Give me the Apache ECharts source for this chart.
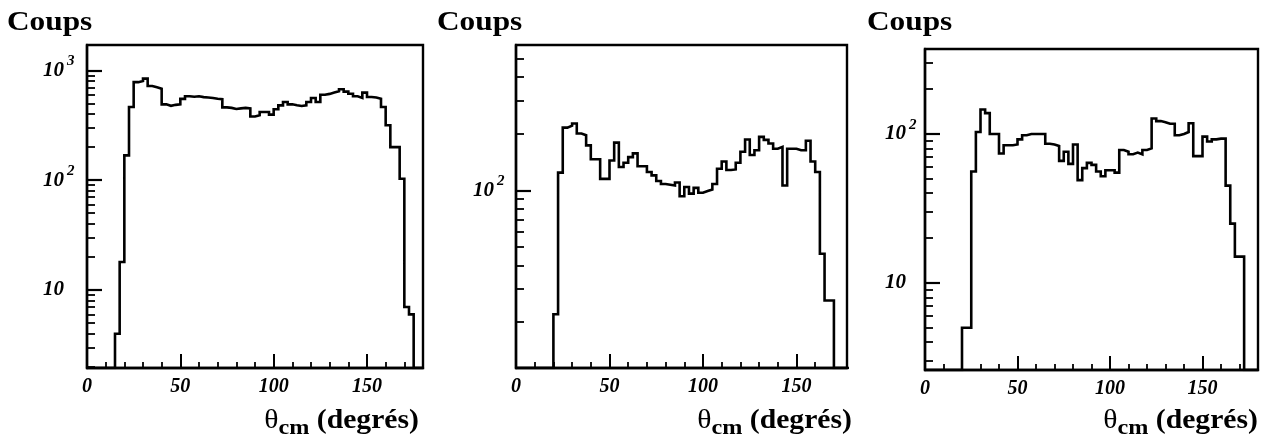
<!DOCTYPE html>
<html>
<head>
<meta charset="utf-8">
<script src="https://cdn.jsdelivr.net/npm/echarts@6/dist/echarts.min.js"></script>
<style>
  html, body { margin: 0; padding: 0; background: #fff; }
  #chart { width: 1274px; height: 446px; }
</style>
</head>
<body>
<div id="chart"></div>
<script>
// Angular distributions, counts per 2.5 degree bin from 0 to 180 degrees
const binWidth = 2.5;

const countsA = [
  0, 0, 0, 0, 0, 0, 4, 18, 168, 464,
  780, 800, 840, 720, 700, 680, 490, 475, 485, 490,
  550, 580, 575, 580, 570, 565, 560, 550, 545, 460,
  455, 445, 450, 455, 450, 380, 390, 417, 417, 395,
  442, 480, 515, 490, 480, 473, 480, 515, 560, 515,
  600, 610, 627, 644, 672, 640, 612, 580, 560, 627,
  572, 565, 552, 463, 316, 200, 200, 103, 7, 6,
  0, 0
];

const countsB = [
  0, 0, 0, 0, 0, 0, 0, 0, 22, 124,
  215, 220, 226, 200, 196, 173, 146, 146, 115, 115,
  144, 179, 133, 140, 150, 157, 134, 134, 125, 120,
  112, 108, 107, 106, 110, 93, 104, 96, 103, 97,
  99, 101, 108, 130, 142, 128, 129, 140, 160, 186,
  154, 163, 192, 185, 177, 166, 170, 106, 166, 166,
  163, 163, 183, 142, 125, 46, 26, 26, 0, 0,
  0, 0
];

const countsC = [
  0, 0, 0, 0, 0, 0, 0, 0, 5, 5,
  56, 103, 146, 138, 100, 100, 74, 84, 84, 85,
  92, 98, 100, 100, 100, 100, 86, 85, 83, 66,
  76, 63, 85, 49, 59, 64, 62, 56, 52, 57,
  57, 55, 78, 76, 73, 75, 73, 78, 80, 127,
  122, 120, 117, 117, 98, 100, 103, 118, 71, 71,
  96, 89, 92, 93, 93, 45, 25, 15, 15, 0,
  0, 0
];

// Axis ticks
const xTickLabels = [0, 50, 100, 150];
const decadeExponents = [1, 2, 3];
const minorTickValues = [
  2, 3, 4, 5, 6, 7, 8, 9,
  20, 30, 40, 50, 60, 70, 80, 90,
  200, 300, 400, 500, 600, 700, 800, 900
];

const yTitle = 'Coups';
const xTitleSymbol = 'θ';
const xTitleSub = 'cm';
const xTitleUnit = ' (degrés)';

const panels = [
  { left: 87,  top: 45, width: 336, height: 323, xMax: 180, yMin: 1.95, yMax: 1700, counts: countsA, labelMargin: 44, titleX: 7,   titleRight: 419 },
  { left: 516, top: 45, width: 331, height: 323, xMax: 177, yMin: 11.4, yMax: 590,  counts: countsB, labelMargin: 43, titleX: 437, titleRight: 852 },
  { left: 925, top: 49, width: 333, height: 321, xMax: 180, yMin: 2.6,  yMax: 372,  counts: countsC, labelMargin: 40, titleX: 867, titleRight: 1258 }
];

const ink = '#000';
const tickFont = { fontFamily: 'Liberation Serif', fontStyle: 'italic', fontWeight: 'bold', fontSize: 20, color: ink };

// Histogram outline: one point per bin left edge, empty bins sit on the floor of the axis
function stepPoints(counts, floor) {
  const pts = counts.map((c, i) => [i * binWidth, c > 0 ? c : floor]);
  pts.push([counts.length * binWidth, floor]);
  return pts;
}

const grid = [], xAxis = [], yAxis = [], series = [], graphic = [];

panels.forEach((p, k) => {
  grid.push({
    left: p.left, top: p.top, width: p.width, height: p.height,
    show: true, borderColor: ink, borderWidth: 2.4, backgroundColor: 'transparent'
  });

  // minor x ticks every 10 degrees (also carries the data)
  xAxis.push({
    gridIndex: k, type: 'value', position: 'bottom', min: 0, max: p.xMax, interval: 10,
    axisLine: { show: true, onZero: false, lineStyle: { color: ink, width: 2.4 } },
    axisTick: { show: true, inside: true, length: 6, lineStyle: { color: ink, width: 1.8 } },
    axisLabel: { show: false },
    splitLine: { show: false }
  });
  // major x ticks with labels
  xAxis.push({
    gridIndex: k, type: 'value', position: 'bottom', min: 0, max: p.xMax,
    axisLine: { show: false, onZero: false },
    axisTick: { show: true, inside: true, length: 14, customValues: xTickLabels, lineStyle: { color: ink, width: 2 } },
    axisLabel: Object.assign({ show: true, margin: 9, customValues: xTickLabels }, tickFont),
    splitLine: { show: false }
  });

  const lmin = Math.log10(p.yMin), lmax = Math.log10(p.yMax);
  // logarithmic counts axis carrying the histogram
  yAxis.push({
    gridIndex: k, type: 'log', logBase: 10, position: 'left', min: p.yMin, max: p.yMax,
    axisLine: { show: true, onZero: false, lineStyle: { color: ink, width: 2.4 } },
    axisTick: { show: false }, axisLabel: { show: false }, splitLine: { show: false }
  });
  // decade ticks and labels, placed on the log10 scale
  yAxis.push({
    gridIndex: k, type: 'value', position: 'left', min: lmin, max: lmax,
    axisLine: { show: false, onZero: false },
    axisTick: { show: true, inside: true, length: 15, customValues: decadeExponents, lineStyle: { color: ink, width: 2.2 } },
    axisLabel: {
      show: true, customValues: decadeExponents, margin: p.labelMargin, align: 'left',
      formatter: v => {
        const n = Math.round(v);
        return n === 1 ? '{b|10}' : '{b|10}{s|' + n + '}';
      },
      rich: {
        b: { fontFamily: 'Liberation Serif', fontStyle: 'italic', fontWeight: 'bold', fontSize: 21, color: ink, verticalAlign: 'bottom', lineHeight: 21 },
        s: { fontFamily: 'Liberation Serif', fontStyle: 'italic', fontWeight: 'bold', fontSize: 15, color: ink, verticalAlign: 'bottom', lineHeight: 15, padding: [0, 0, 12, 3] }
      }
    },
    splitLine: { show: false }
  });
  // intermediate ticks 2..9 of each decade
  yAxis.push({
    gridIndex: k, type: 'value', position: 'left', min: lmin, max: lmax,
    axisLine: { show: false, onZero: false },
    axisTick: { show: true, inside: true, length: 8, customValues: minorTickValues.map(Math.log10), lineStyle: { color: ink, width: 1.8 } },
    axisLabel: { show: false },
    splitLine: { show: false }
  });

  series.push({
    type: 'line', step: 'end', xAxisIndex: 2 * k, yAxisIndex: 3 * k,
    data: stepPoints(p.counts, p.yMin),
    showSymbol: false, symbol: 'none', clip: true, animation: false,
    lineStyle: { color: ink, width: 2.6, join: 'miter' }
  });

  graphic.push({
    type: 'text', x: p.titleX, y: 23, scaleX: 1.16, silent: true,
    style: {
      text: yTitle, fill: ink, font: 'bold 27px "Liberation Serif"',
      align: 'left', verticalAlign: 'middle', textAlign: 'left', textVerticalAlign: 'middle'
    }
  });
  graphic.push({
    type: 'text', x: p.titleRight, y: 426, scaleX: 1.1, silent: true,
    style: {
      text: '{t|' + xTitleSymbol + '}{s|' + xTitleSub + '}{m|' + xTitleUnit + '}',
      align: 'right', verticalAlign: 'middle', textAlign: 'right', textVerticalAlign: 'middle',
      rich: {
        t: { fontFamily: 'Liberation Serif', fontSize: 27, fill: ink, color: ink, verticalAlign: 'bottom', lineHeight: 27, padding: [0, 0, 5, 0] },
        s: { fontFamily: 'Liberation Serif', fontWeight: 'bold', fontSize: 22, fill: ink, color: ink, verticalAlign: 'bottom', lineHeight: 22 },
        m: { fontFamily: 'Liberation Serif', fontWeight: 'bold', fontSize: 27, fill: ink, color: ink, verticalAlign: 'bottom', lineHeight: 27, padding: [0, 0, 5, 0] }
      }
    }
  });
});

const chart = echarts.init(document.getElementById('chart'), null, { renderer: 'canvas' });
chart.setOption({
  animation: false,
  backgroundColor: '#fff',
  grid, xAxis, yAxis, series, graphic
});
</script>
</body>
</html>
